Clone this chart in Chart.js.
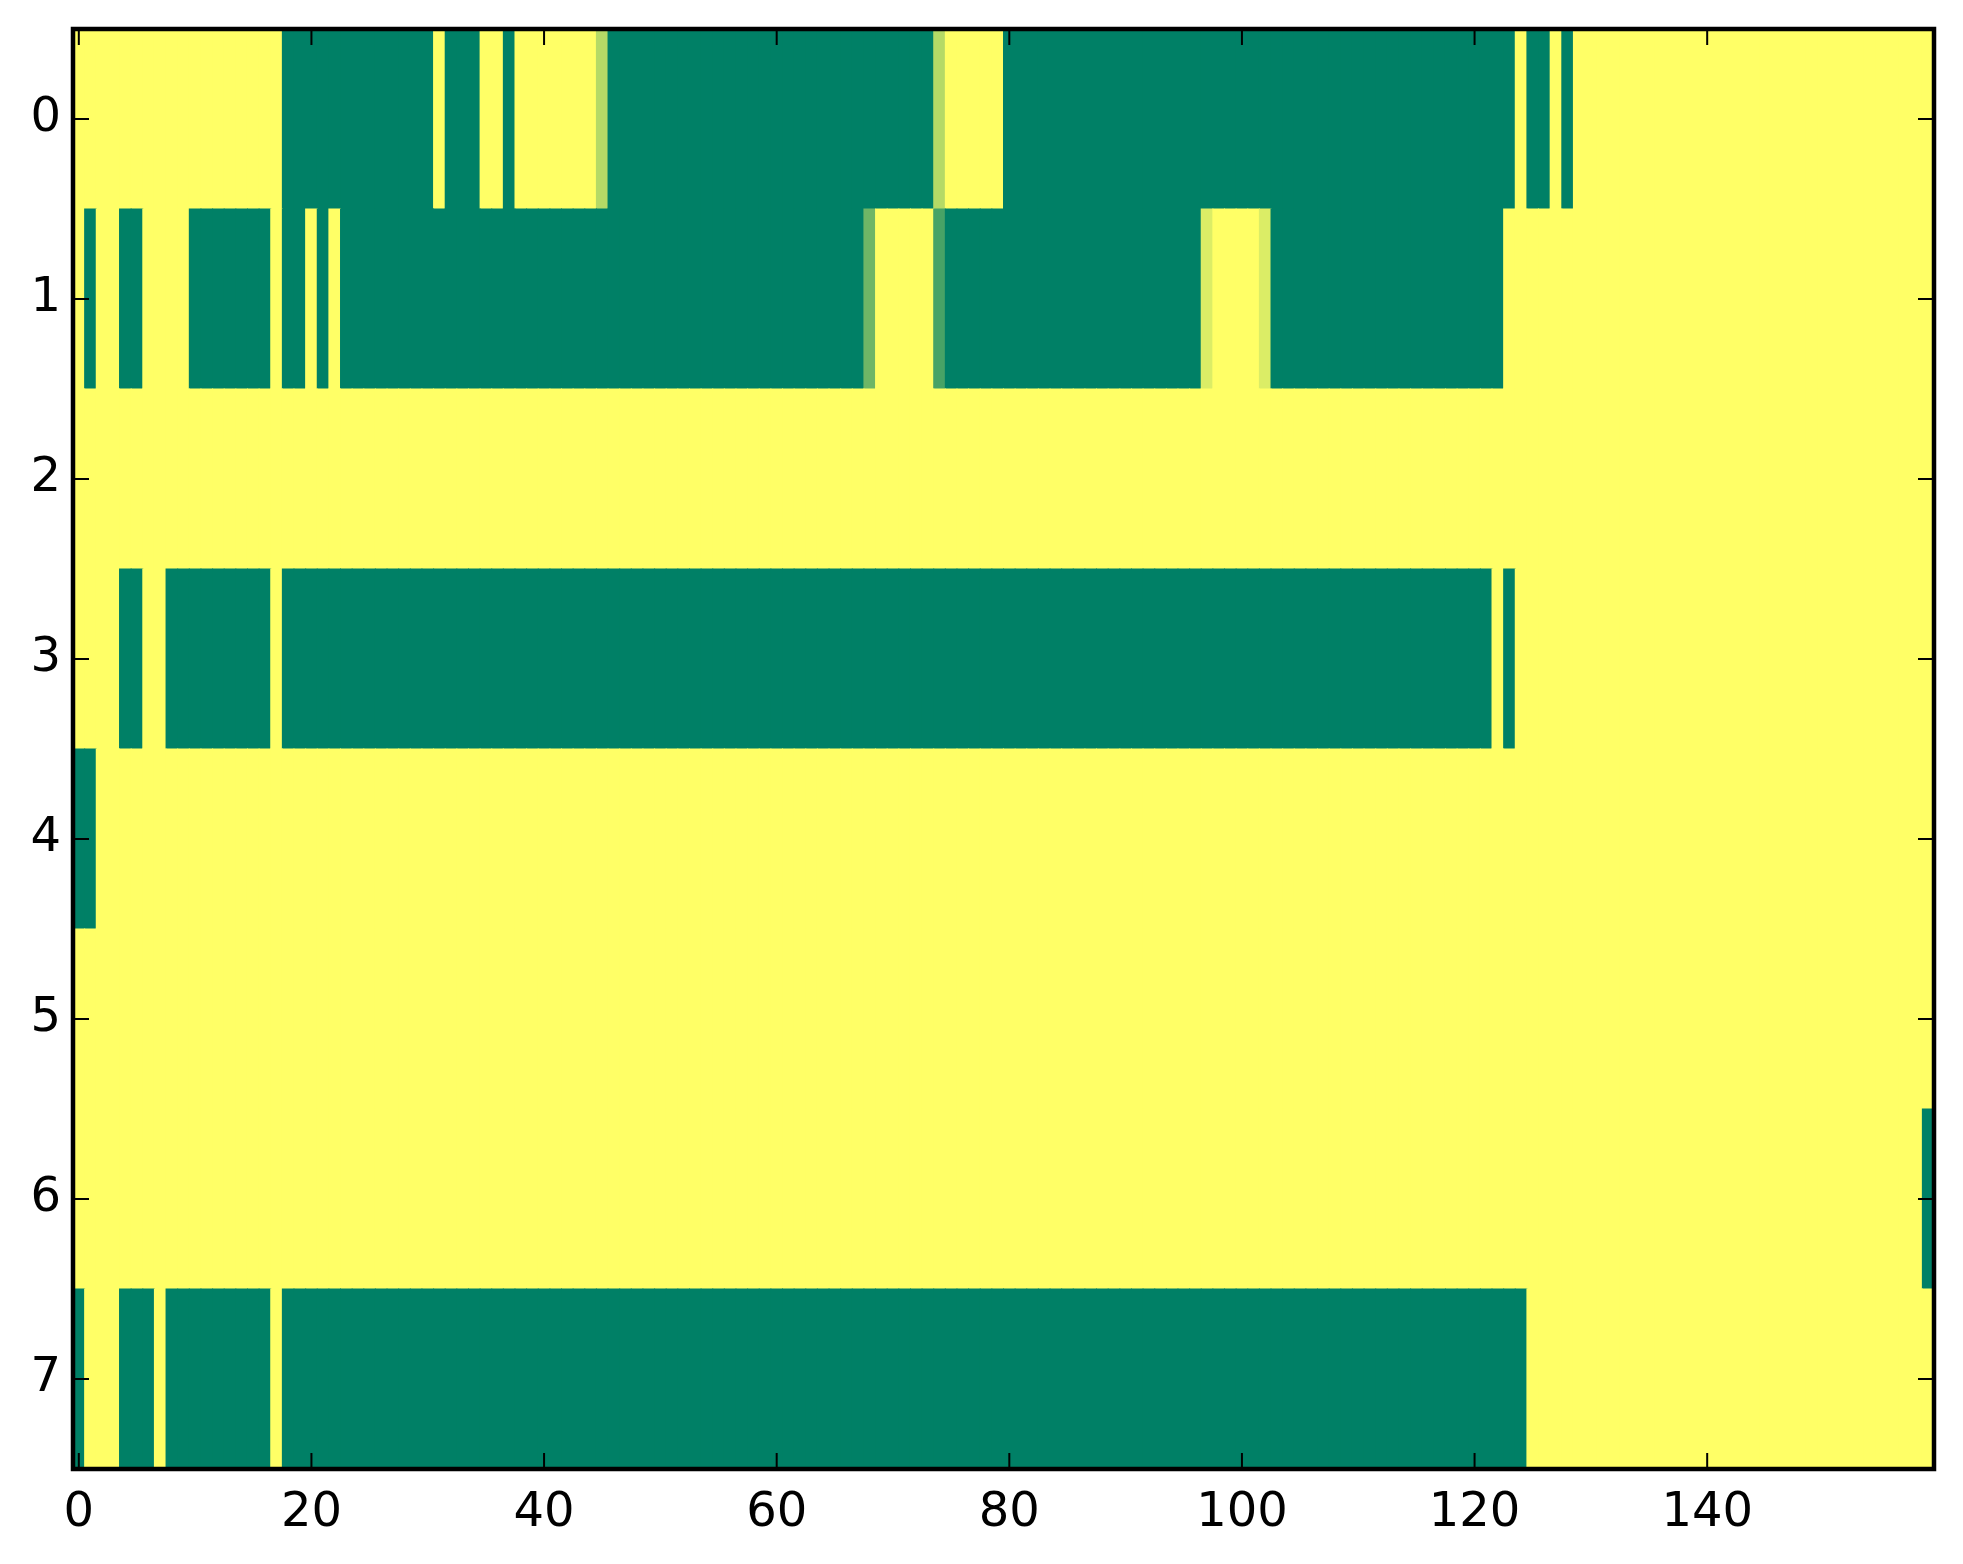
<!DOCTYPE html>
<html>
<head>
<meta charset="utf-8">
<script src="https://cdn.jsdelivr.net/npm/chart.js@4.4.1/dist/chart.umd.min.js"></script>
<style>
  html, body { margin: 0; padding: 0; background: #ffffff; }
  canvas { display: block; }
</style>
</head>
<body>
<canvas id="c" width="1963" height="1564"></canvas>
<script>
// Row labels (y axis) and x tick values
const rowLabels = ['0', '1', '2', '3', '4', '5', '6', '7'];
const xTicks = [0, 20, 40, 60, 80, 100, 120, 140];

// Cell values per row (0 = dark green, 1 = yellow, summer colormap), 160 columns each
const row0 = [
  1,1,1,1,1,1,1,1,1,1, 1,1,1,1,1,1,1,1,0,0,
  0,0,0,0,0,0,0,0,0,0, 0,1,0,0,0,1,1,0,1,1,
  1,1,1,1,1,0.71,0,0,0,0, 0,0,0,0,0,0,0,0,0,0,
  0,0,0,0,0,0,0,0,0,0, 0,0,0,0,0.71,1,1,1,1,1,
  0,0,0,0,0,0,0,0,0,0, 0,0,0,0,0,0,0,0,0,0,
  0,0,0,0,0,0,0,0,0,0, 0,0,0,0,0,0,0,0,0,0,
  0,0,0,0,1,0,0,1,0,1, 1,1,1,1,1,1,1,1,1,1,
  1,1,1,1,1,1,1,1,1,1, 1,1,1,1,1,1,1,1,1,1
];
const row1 = [
  1,0,1,1,0,0,1,1,1,1, 0,0,0,0,0,0,0,1,0,0,
  1,0,1,0,0,0,0,0,0,0, 0,0,0,0,0,0,0,0,0,0,
  0,0,0,0,0,0,0,0,0,0, 0,0,0,0,0,0,0,0,0,0,
  0,0,0,0,0,0,0,0,0.43,1, 1,1,1,1,0.28,0,0,0,0,0,
  0,0,0,0,0,0,0,0,0,0, 0,0,0,0,0,0,0,0.86,1,1,
  1,1,0.86,0,0,0,0,0,0,0, 0,0,0,0,0,0,0,0,0,0,
  0,0,0,1,1,1,1,1,1,1, 1,1,1,1,1,1,1,1,1,1,
  1,1,1,1,1,1,1,1,1,1, 1,1,1,1,1,1,1,1,1,1
];
const row2 = [
  1,1,1,1,1,1,1,1,1,1, 1,1,1,1,1,1,1,1,1,1,
  1,1,1,1,1,1,1,1,1,1, 1,1,1,1,1,1,1,1,1,1,
  1,1,1,1,1,1,1,1,1,1, 1,1,1,1,1,1,1,1,1,1,
  1,1,1,1,1,1,1,1,1,1, 1,1,1,1,1,1,1,1,1,1,
  1,1,1,1,1,1,1,1,1,1, 1,1,1,1,1,1,1,1,1,1,
  1,1,1,1,1,1,1,1,1,1, 1,1,1,1,1,1,1,1,1,1,
  1,1,1,1,1,1,1,1,1,1, 1,1,1,1,1,1,1,1,1,1,
  1,1,1,1,1,1,1,1,1,1, 1,1,1,1,1,1,1,1,1,1
];
const row3 = [
  1,1,1,1,0,0,1,1,0,0, 0,0,0,0,0,0,0,1,0,0,
  0,0,0,0,0,0,0,0,0,0, 0,0,0,0,0,0,0,0,0,0,
  0,0,0,0,0,0,0,0,0,0, 0,0,0,0,0,0,0,0,0,0,
  0,0,0,0,0,0,0,0,0,0, 0,0,0,0,0,0,0,0,0,0,
  0,0,0,0,0,0,0,0,0,0, 0,0,0,0,0,0,0,0,0,0,
  0,0,0,0,0,0,0,0,0,0, 0,0,0,0,0,0,0,0,0,0,
  0,0,1,0,1,1,1,1,1,1, 1,1,1,1,1,1,1,1,1,1,
  1,1,1,1,1,1,1,1,1,1, 1,1,1,1,1,1,1,1,1,1
];
const row4 = [
  0,0,1,1,1,1,1,1,1,1, 1,1,1,1,1,1,1,1,1,1,
  1,1,1,1,1,1,1,1,1,1, 1,1,1,1,1,1,1,1,1,1,
  1,1,1,1,1,1,1,1,1,1, 1,1,1,1,1,1,1,1,1,1,
  1,1,1,1,1,1,1,1,1,1, 1,1,1,1,1,1,1,1,1,1,
  1,1,1,1,1,1,1,1,1,1, 1,1,1,1,1,1,1,1,1,1,
  1,1,1,1,1,1,1,1,1,1, 1,1,1,1,1,1,1,1,1,1,
  1,1,1,1,1,1,1,1,1,1, 1,1,1,1,1,1,1,1,1,1,
  1,1,1,1,1,1,1,1,1,1, 1,1,1,1,1,1,1,1,1,1
];
const row5 = [
  1,1,1,1,1,1,1,1,1,1, 1,1,1,1,1,1,1,1,1,1,
  1,1,1,1,1,1,1,1,1,1, 1,1,1,1,1,1,1,1,1,1,
  1,1,1,1,1,1,1,1,1,1, 1,1,1,1,1,1,1,1,1,1,
  1,1,1,1,1,1,1,1,1,1, 1,1,1,1,1,1,1,1,1,1,
  1,1,1,1,1,1,1,1,1,1, 1,1,1,1,1,1,1,1,1,1,
  1,1,1,1,1,1,1,1,1,1, 1,1,1,1,1,1,1,1,1,1,
  1,1,1,1,1,1,1,1,1,1, 1,1,1,1,1,1,1,1,1,1,
  1,1,1,1,1,1,1,1,1,1, 1,1,1,1,1,1,1,1,1,1
];
const row6 = [
  1,1,1,1,1,1,1,1,1,1, 1,1,1,1,1,1,1,1,1,1,
  1,1,1,1,1,1,1,1,1,1, 1,1,1,1,1,1,1,1,1,1,
  1,1,1,1,1,1,1,1,1,1, 1,1,1,1,1,1,1,1,1,1,
  1,1,1,1,1,1,1,1,1,1, 1,1,1,1,1,1,1,1,1,1,
  1,1,1,1,1,1,1,1,1,1, 1,1,1,1,1,1,1,1,1,1,
  1,1,1,1,1,1,1,1,1,1, 1,1,1,1,1,1,1,1,1,1,
  1,1,1,1,1,1,1,1,1,1, 1,1,1,1,1,1,1,1,1,1,
  1,1,1,1,1,1,1,1,1,1, 1,1,1,1,1,1,1,1,1,0
];
const row7 = [
  0,1,1,1,0,0,0,1,0,0, 0,0,0,0,0,0,0,1,0,0,
  0,0,0,0,0,0,0,0,0,0, 0,0,0,0,0,0,0,0,0,0,
  0,0,0,0,0,0,0,0,0,0, 0,0,0,0,0,0,0,0,0,0,
  0,0,0,0,0,0,0,0,0,0, 0,0,0,0,0,0,0,0,0,0,
  0,0,0,0,0,0,0,0,0,0, 0,0,0,0,0,0,0,0,0,0,
  0,0,0,0,0,0,0,0,0,0, 0,0,0,0,0,0,0,0,0,0,
  0,0,0,0,0,1,1,1,1,1, 1,1,1,1,1,1,1,1,1,1,
  1,1,1,1,1,1,1,1,1,1, 1,1,1,1,1,1,1,1,1,1
];

const rows = [row0, row1, row2, row3, row4, row5, row6, row7];

// matplotlib "summer" colormap
function summer(v) {
  const r = Math.round(255 * v);
  const g = Math.round(255 * (0.5 + 0.5 * v));
  return 'rgb(' + r + ',' + g + ',102)';
}

// Build cells: floating horizontal bars spanning each column
const cells = [];
rows.forEach((row, r) => {
  row.forEach((v, c) => {
    cells.push({ y: rowLabels[r], x: [c - 0.5, c + 0.5], v: v });
  });
});

const FONT = { family: 'DejaVu Sans', size: 48 };

const framePlugin = {
  id: 'frame',
  afterDatasetsDraw(chart) {
    const ctx = chart.ctx;
    const a = chart.chartArea;
    const xs = chart.scales.x;
    const ys = chart.scales.y;
    const TL = 16;
    ctx.save();
    ctx.strokeStyle = '#000000';
    ctx.lineWidth = 2;
    ctx.beginPath();
    xs.ticks.forEach(t => {
      const px = xs.getPixelForValue(t.value);
      ctx.moveTo(px, a.bottom); ctx.lineTo(px, a.bottom - TL);
      ctx.moveTo(px, a.top); ctx.lineTo(px, a.top + TL);
    });
    ys.ticks.forEach((t, i) => {
      const py = ys.getPixelForTick(i);
      ctx.moveTo(a.left, py); ctx.lineTo(a.left + TL, py);
      ctx.moveTo(a.right, py); ctx.lineTo(a.right - TL, py);
    });
    ctx.stroke();
    ctx.lineWidth = 4.5;
    ctx.strokeRect(a.left, a.top, a.right - a.left, a.bottom - a.top);
    ctx.restore();
  }
};

new Chart(document.getElementById('c'), {
  type: 'bar',
  data: {
    labels: rowLabels,
    datasets: [{
      data: cells,
      backgroundColor: ctx => summer(ctx.raw ? ctx.raw.v : 1),
      borderWidth: 0,
      barPercentage: 1,
      categoryPercentage: 1,
      inflateAmount: 0.5
    }]
  },
  options: {
    indexAxis: 'y',
    responsive: false,
    devicePixelRatio: 1,
    animation: false,
    events: [],
    layout: { padding: { top: 29, right: 29, left: 0, bottom: 0 } },
    plugins: {
      legend: { display: false },
      tooltip: { enabled: false },
      title: { display: false }
    },
    scales: {
      x: {
        type: 'linear',
        position: 'bottom',
        min: -0.5,
        max: 159.5,
        afterBuildTicks: scale => { scale.ticks = xTicks.map(v => ({ value: v })); },
        afterFit: scale => { scale.height = 95; scale.paddingLeft = 0; scale.paddingRight = 0; },
        grid: { display: false, drawTicks: false },
        border: { display: false },
        ticks: {
          color: '#000000',
          font: FONT,
          padding: 16,
          autoSkip: false,
          maxRotation: 0,
          minRotation: 0,
          callback: v => String(v)
        }
      },
      y: {
        type: 'category',
        position: 'left',
        offset: true,
        afterFit: scale => { scale.width = 73; scale.paddingTop = 0; scale.paddingBottom = 0; },
        grid: { display: false, drawTicks: false },
        border: { display: false },
        ticks: {
          color: '#000000',
          font: FONT,
          padding: 12,
          autoSkip: false
        }
      }
    }
  },
  plugins: [framePlugin]
});
</script>
</body>
</html>
